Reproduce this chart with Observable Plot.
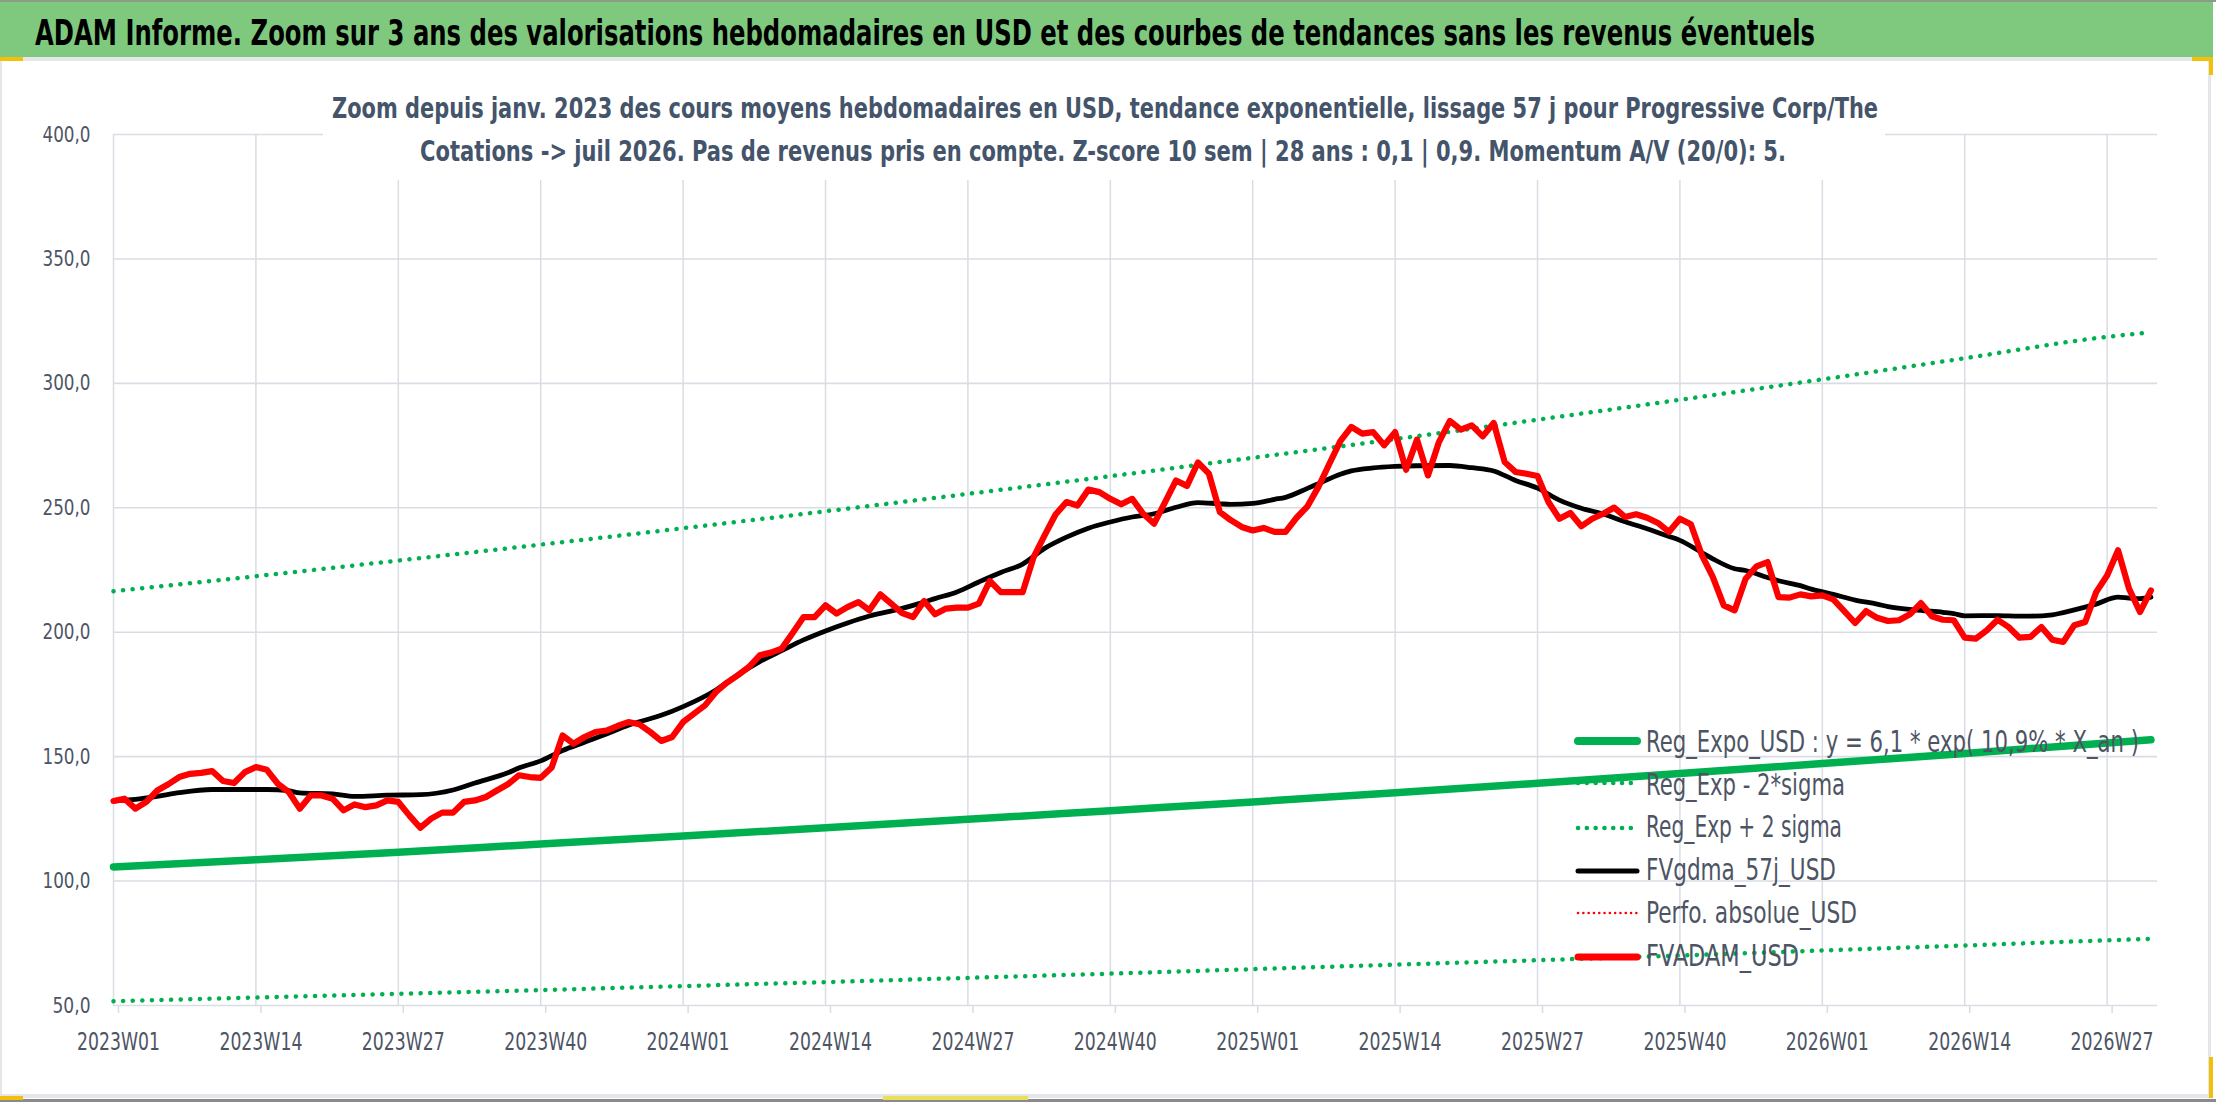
<!DOCTYPE html>
<html>
<head>
<meta charset="utf-8">
<script src="https://cdn.jsdelivr.net/npm/d3@7"></script>
<script src="https://cdn.jsdelivr.net/npm/@observablehq/plot@0.6"></script>
<style>
  body { margin: 0; background: #ffffff; }
  #wrap { position: relative; width: 2216px; height: 1102px; overflow: hidden; background: #ffffff; }
  #chart, #overlay { position: absolute; left: 0; top: 0; }
  #overlay { pointer-events: none; }
</style>
</head>
<body>
<div id="wrap"><div id="chart"></div></div>
<script>
const FONT = '"Liberation Sans Narrow", "DejaVu Sans Condensed", "Roboto Condensed", "Open Sans", sans-serif';

// ---------- texts ----------
const titleText = "ADAM Informe. Zoom sur 3 ans des valorisations hebdomadaires en USD et des courbes de tendances sans les revenus éventuels";
const subtitleLines = [
  "Zoom depuis janv. 2023 des cours moyens hebdomadaires en USD, tendance exponentielle, lissage 57 j pour Progressive Corp/The",
  "Cotations -> juil 2026. Pas de revenus pris en compte. Z-score 10 sem | 28 ans : 0,1 | 0,9. Momentum A/V (20/0): 5."
];
const legendLabels = [
  "Reg_Expo_USD : y = 6,1 * exp( 10,9% * X_an )",
  "Reg_Exp - 2*sigma",
  "Reg_Exp + 2 sigma",
  "FVgdma_57j_USD",
  "Perfo. absolue_USD",
  "FVADAM_USD"
];

// ---------- axes ----------
const tickWeeks = [0, 13, 26, 39, 52, 65, 78, 91, 104, 117, 130, 143, 156, 169, 182];
const tickLabels = ["2023W01","2023W14","2023W27","2023W40","2024W01","2024W14","2024W27","2024W40",
                    "2025W01","2025W14","2025W27","2025W40","2026W01","2026W14","2026W27"];
const yTicks = [50, 100, 150, 200, 250, 300, 350, 400];

// ---------- series (week index from 2023W01) ----------
// FVADAM_USD : weekly average price
const fvadam = [
  132.2,133.1,129.1,131.8,136.4,138.9,141.8,143.1,143.5,144.2,
  140.2,139.4,143.8,145.8,144.7,139.1,135.8,129.1,134.4,134.4,
  133.1,128.4,130.8,129.7,130.4,132.4,131.8,126.4,121.4,125.1,
  127.5,127.5,131.8,132.4,133.8,136.4,138.9,142.5,141.8,141.5,
  145.6,158.5,155.2,157.9,159.9,160.5,162.3,163.9,163.0,159.9,
  156.3,157.9,163.9,167.3,170.6,176.0,179.7,182.7,186.0,190.7,
  191.8,193.4,199.7,206.1,206.1,210.8,207.5,210.1,212.1,208.8,
  215.2,211.5,207.7,206.1,212.5,207.2,209.5,209.9,209.9,211.5,
  220.6,216.1,216.1,216.1,230.2,238.9,247.3,252.3,250.9,257.3,
  256.3,253.6,251.4,253.6,247.6,243.6,252.3,261.0,258.8,268.2,
  263.7,248.3,245.0,242.3,240.9,241.9,240.3,240.3,246.0,250.6,
  258.4,267.7,276.8,282.5,279.8,280.4,275.1,280.4,265.3,277.4,
  263.0,276.4,284.9,281.4,283.1,278.7,284.1,268.4,264.4,263.7,
  262.8,252.3,245.6,247.9,242.6,245.6,247.6,250.1,246.3,247.4,
  246.0,243.9,240.3,245.6,243.4,231.0,222.2,210.8,208.8,221.5,
  226.5,228.2,214.1,213.9,215.2,214.4,214.8,213.2,208.5,203.7,
  208.5,205.8,204.5,204.8,207.2,211.7,206.4,205.0,204.8,197.8,
  197.4,200.7,205.0,202.1,197.8,198.1,202.1,197.0,196.1,202.8,
  204.1,216.1,222.8,232.9,217.5,208.1,216.8
];

// FVgdma_57j_USD : smoothed curve, read at these weeks
const gdmaWeeks = [0,2,4,6,9,14,16,17,20,22,25,28,31,33,36,37,39,41,43,45,47,48,50,52,55,57,59,61,63,65,67,69,72,74,75,77,79,81,83,85,87,89,91,93,95,97,99,101,102,104,106,107,109,110,112,113,115,117,119,122,124,126,128,130,132,134,136,138,140,142,143,145,146,148,149,151,152,154,155,157,159,161,162,165,167,168,169,172,174,175,177,178,180,181,183,184,185,186];
const gdmaValues = [132.2,132.8,134.0,135.5,136.8,136.8,136.3,135.4,135.0,134.0,134.5,134.7,136.6,139.4,143.5,145.4,148.3,152.5,155.8,159.1,162.6,164.0,166.6,170.1,176.8,182.9,188.2,192.6,196.9,200.5,203.7,206.5,209.6,212.1,213.5,216.2,220.2,224.0,227.4,233.7,238.2,241.8,244.3,246.3,247.6,250.2,252.1,251.6,251.4,251.8,253.4,254.2,257.8,259.7,263.5,264.8,266.0,266.6,266.9,267.0,266.1,264.8,261.0,257.9,253.1,249.8,247.5,244.4,241.6,238.5,236.9,232.0,229.5,225.5,224.8,222.0,220.7,218.7,217.3,215.2,212.9,211.3,210.3,208.8,208.0,207.5,206.6,206.7,206.5,206.5,207.0,207.9,210.1,211.3,214.1,213.7,213.5,214.1];

// exponential trend and its ±2 sigma bands, read at each tick and at the last week
const trendWeeks = [0, 13, 26, 39, 52, 65, 78, 91, 104, 117, 130, 143, 156, 169, 182, 186];
const regExpo   = [105.7,108.6,111.6,114.9,118.1,121.4,124.8,128.3,131.8,135.5,139.3,143.2,147.2,151.3,155.5,156.8];
const regMinus2 = [51.7,53.2,54.7,56.2,57.8,59.4,61.1,62.8,64.6,66.4,68.2,70.1,72.1,74.1,76.2,76.8];
const regPlus2  = [216.5,222.5,228.8,235.2,241.8,248.6,255.6,262.7,270.1,277.6,285.4,293.4,301.6,310.1,318.7,320.5];

// ---------- tables ----------
const rows = (ws, vs) => ws.map((w, i) => ({w, v: vs[i]}));
const redData = fvadam.map((v, i) => ({w: i, v}));
const blackData = rows(gdmaWeeks, gdmaValues);
const expoData = rows(trendWeeks, regExpo);
const lowData = rows(trendWeeks, regMinus2);
const highData = rows(trendWeeks, regPlus2);

const GREEN = "#00b050", RED = "#ff0000", GRID = "#d9dde3", LABEL = "#4d5464";
const dotted = {stroke: GREEN, strokeWidth: 4.5, strokeDasharray: "0.1 9.5", strokeLinecap: "round"};

const chart = Plot.plot({
  width: 2216,
  height: 1102,
  marginLeft: 113,
  marginRight: 59,
  marginTop: 134,
  marginBottom: 97,
  style: {fontFamily: FONT, background: "transparent", color: LABEL},
  x: {domain: [0, 186.6], axis: null},
  y: {domain: [50, 400], axis: null},
  marks: [
    Plot.ruleX(tickWeeks, {stroke: GRID, strokeWidth: 1.5}),
    Plot.ruleY(yTicks, {stroke: GRID, strokeWidth: 1.6}),
    Plot.axisX({ticks: tickWeeks, tickFormat: d => tickLabels[tickWeeks.indexOf(d)], tickSize: 8, tickPadding: 19,
                fontSize: 25, fill: LABEL, stroke: GRID, strokeWidth: 1.5, dx: 5, label: null}),
    Plot.axisY({ticks: yTicks, tickFormat: d => d.toFixed(1).replace(".", ","), tickSize: 0, tickPadding: 23,
                fontSize: 22, fill: LABEL, label: null}),
    Plot.line(expoData, {x: "w", y: "v", stroke: GREEN, strokeWidth: 7.5, curve: "monotone-x"}),
    Plot.line(lowData, {x: "w", y: "v", ...dotted, curve: "monotone-x"}),
    Plot.line(highData, {x: "w", y: "v", ...dotted, curve: "monotone-x"}),
    Plot.line(blackData, {x: "w", y: "v", stroke: "#000000", strokeWidth: 4.8, curve: "monotone-x"}),
    Plot.line(redData, {x: "w", y: "v", stroke: RED, strokeWidth: 6.2, strokeLinejoin: "round"})
  ]
});
// narrow the tick labels to the reference's condensed look
d3.select(chart).selectAll('g[aria-label="x-axis tick label"] text')
  .attr("textLength", 83).attr("lengthAdjust", "spacingAndGlyphs");
d3.select(chart).selectAll('g[aria-label="y-axis tick label"] text')
  .each(function() {
    const n = this.textContent.length;
    d3.select(this).attr("textLength", n >= 5 ? 48 : 38).attr("lengthAdjust", "spacingAndGlyphs");
  });
document.getElementById("chart").appendChild(chart);

// ---------- frame, title, subtitle, legend ----------
const ov = d3.select("#wrap").append("svg").attr("id", "overlay")
  .attr("width", 2216).attr("height", 1102).style("font-family", FONT);

ov.append("rect").attr("x", 0).attr("y", 0).attr("width", 2213).attr("height", 57).attr("fill", "#7fc97f");
ov.append("line").attr("x1", 0).attr("x2", 2216).attr("y1", 1).attr("y2", 1).attr("stroke", "#8c9a8c").attr("stroke-width", 2);
ov.append("rect").attr("x", 0).attr("y", 57).attr("width", 2209).attr("height", 4).attr("fill", "#e4e6ea");
ov.append("rect").attr("x", 2208).attr("y", 57).attr("width", 3).attr("height", 1040).attr("fill", "#e4e6ea");
ov.append("rect").attr("x", 0).attr("y", 1094).attr("width", 2210).attr("height", 4).attr("fill", "#e4e6ea");
ov.append("rect").attr("x", 0).attr("y", 1099).attr("width", 2216).attr("height", 3).attr("fill", "#8a8a8a");
ov.append("rect").attr("x", 0).attr("y", 57).attr("width", 2).attr("height", 1040).attr("fill", "#e4e6ea");
// selection handles
ov.append("rect").attr("x", 0).attr("y", 57).attr("width", 23).attr("height", 4).attr("fill", "#f2c00a");
ov.append("rect").attr("x", 2192).attr("y", 57).attr("width", 21).attr("height", 4).attr("fill", "#f2c00a");
ov.append("rect").attr("x", 2209).attr("y", 57).attr("width", 4).attr("height", 18).attr("fill", "#f2c00a");
ov.append("rect").attr("x", 0).attr("y", 1096).attr("width", 23).attr("height", 4).attr("fill", "#f2c00a");
ov.append("rect").attr("x", 883).attr("y", 1096).attr("width", 145).attr("height", 4).attr("fill", "#e8e05a");
ov.append("rect").attr("x", 2209).attr("y", 1057).attr("width", 4).attr("height", 41).attr("fill", "#f2c00a");

ov.append("text").attr("x", 35).attr("y", 45)
  .attr("font-size", 36).attr("font-weight", "bold").attr("fill", "#000000")
  .attr("textLength", 1780).attr("lengthAdjust", "spacingAndGlyphs").text(titleText);

ov.append("rect").attr("x", 323).attr("y", 80).attr("width", 1562).attr("height", 100).attr("fill", "#ffffff");
const subW = [1546, 1366], subX = [1105, 1103], subY = [118, 161];
subtitleLines.forEach((t, i) => {
  ov.append("text").attr("x", subX[i]).attr("y", subY[i]).attr("text-anchor", "middle")
    .attr("font-size", 28).attr("font-weight", "bold").attr("fill", "#44546a")
    .attr("textLength", subW[i]).attr("lengthAdjust", "spacingAndGlyphs").text(t);
});

const legStyles = [
  {stroke: GREEN, w: 8, dash: null, cap: "round"},
  {stroke: GREEN, w: 4.5, dash: "0.1 8.7", cap: "round"},
  {stroke: GREEN, w: 4.5, dash: "0.1 8.7", cap: "round"},
  {stroke: "#000000", w: 5, dash: null, cap: "round"},
  {stroke: RED, w: 2.5, dash: "0.1 5.2", cap: "round"},
  {stroke: RED, w: 7, dash: null, cap: "round"}
];
const legLineY = [741, 783, 828, 871, 913, 957];
const legBase = [752, 795, 837, 880, 923, 966];
const legW = [493, 199, 196, 190, 211, 153];
legendLabels.forEach((t, i) => {
  const s = legStyles[i];
  const ln = ov.append("line").attr("x1", 1578).attr("x2", 1637).attr("y1", legLineY[i]).attr("y2", legLineY[i])
    .attr("stroke", s.stroke).attr("stroke-width", s.w).attr("stroke-linecap", s.cap);
  if (s.dash) ln.attr("stroke-dasharray", s.dash);
  ov.append("text").attr("x", 1646).attr("y", legBase[i]).attr("font-size", 31).attr("fill", LABEL)
    .attr("textLength", legW[i]).attr("lengthAdjust", "spacingAndGlyphs").text(t);
});
</script>
</body>
</html>
